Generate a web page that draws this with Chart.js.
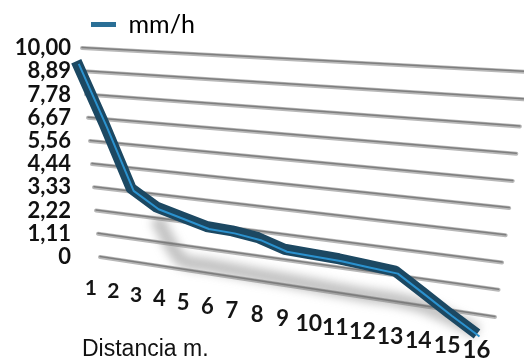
<!DOCTYPE html>
<html>
<head>
<meta charset="utf-8">
<script src="https://cdn.jsdelivr.net/npm/chart.js@4.4.0/dist/chart.umd.min.js"></script>
<style>
html, body { margin: 0; padding: 0; background: #fff; }
</style>
</head>
<body>
<canvas id="myChart" width="524" height="363"></canvas>
<script>
var categories = ['1', '2', '3', '4', '5', '6', '7', '8', '9', '10', '11', '12', '13', '14', '15', '16'];
var rainRate = [9.8, 7.0, 4.2, 3.5, 3.2, 2.9, 2.85, 2.7, 2.35, 2.3, 2.25, 2.15, 2.05, 1.35, 0.65, 0];
// grey floor shadow of the ribbon in the original 3D render
var shadowTrace = [null, null, null, 3.0, 1.3, 1.2, 1.15, 1.1, 1.05, 1.0, 0.95, 0.9, 0.9, 0.8, 0.5, 0.1];
var yTickLabels = ['0', '1,11', '2,22', '3,33', '4,44', '5,56', '6,67', '7,78', '8,89', '10,00'];
var seriesName = 'mm/h';
var axisTitle = 'Distancia m.';

// wall seen in perspective: corners bottom-left, bottom-right, top-right, top-left;
// k > 1 widens the category spacing towards the right (nearer) side
function wallMap(bl, br, tr, tl, k) {
  return function (u, v) {
    var t = u / (k - (k - 1) * u);
    var bx = bl[0] + t * (br[0] - bl[0]), by = bl[1] + t * (br[1] - bl[1]);
    var tx = tl[0] + t * (tr[0] - tl[0]), ty = tl[1] + t * (tr[1] - tl[1]);
    return [bx + v * (tx - bx), by + v * (ty - by)];
  };
}

var backWall = wallMap([100, 257], [495, 317], [527, 72], [82, 48], 1.155);
var frontPlane = wallMap([88, 274], [477, 334], [515, 86], [76, 57], 1.155);

function norm(area, px, py) {
  return [(px - area.left) / (area.right - area.left), (area.bottom - py) / (area.bottom - area.top)];
}

var perspective = {
  id: 'perspective',
  beforeInit: function (chart) {
    var fit = chart.legend.fit;
    chart.legend.fit = function () {
      fit.bind(chart.legend)();
      this.height = 45;
    };
  },
  afterDatasetsUpdate: function (chart) {
    var area = chart.chartArea;
    chart.data.datasets.forEach(function (ds, i) {
      var off = ds.shift || [0, 0];
      chart.getDatasetMeta(i).data.forEach(function (pt) {
        if (pt.skip) return;
        var n = norm(area, pt.x, pt.y);
        var p = frontPlane(n[0], n[1]);
        pt.x = p[0] + off[0];
        pt.y = p[1] + off[1];
      });
    });
  },
  beforeDatasetsDraw: function (chart) {
    var ctx = chart.ctx, area = chart.chartArea;
    var x = chart.scales.x, y = chart.scales.y;
    ctx.save();
    ctx.lineCap = 'round';
    y.ticks.forEach(function (t) {
      var v = norm(area, 0, y.getPixelForValue(t.value))[1];
      var p = backWall(0, v), q = backWall(1, v);
      ctx.beginPath();
      ctx.moveTo(p[0], p[1]);
      ctx.lineTo(q[0], q[1]);
      ctx.strokeStyle = '#b8b8b8';
      ctx.lineWidth = 4;
      ctx.stroke();
      ctx.beginPath();
      ctx.moveTo(p[0], p[1] - 0.5);
      ctx.lineTo(q[0], q[1] - 0.5);
      ctx.strokeStyle = '#7e7e7e';
      ctx.lineWidth = 1.5;
      ctx.stroke();
    });
    ctx.fillStyle = '#151515';
    ctx.textAlign = 'center';
    ctx.textBaseline = 'middle';
    x.getLabels().forEach(function (lab, i) {
      var u = norm(area, x.getPixelForValue(i), 0)[0];
      var p = frontPlane(u, -0.065);
      ctx.font = 'bold ' + Math.round(21 * (1 + 0.12 * u)) + 'px Lato';
      ctx.fillText(lab, p[0] + 2, p[1]);
    });
    ctx.restore();
  },
  beforeDatasetDraw: function (chart, args) {
    if (chart.data.datasets[args.index].blur) {
      chart.ctx.save();
      chart.ctx.filter = 'blur(5px)';
    }
  },
  afterDatasetDraw: function (chart, args) {
    if (chart.data.datasets[args.index].blur) chart.ctx.restore();
  }
};

var chart = new Chart('myChart', {
  type: 'line',
  data: {
    labels: categories,
    datasets: [{
      label: seriesName,
      data: rainRate,
      borderColor: '#2b92cf',
      borderWidth: 2,
      shift: [2.5, 2.5],
      pointRadius: 0,
      tension: 0,
      clip: false,
      borderJoinStyle: 'round'
    }, {
      label: seriesName,
      data: rainRate,
      borderColor: '#1c4862',
      borderWidth: 11,
      pointRadius: 0,
      tension: 0,
      clip: false,
      borderJoinStyle: 'round'
    }, {
      label: 'shadow',
      data: shadowTrace,
      borderColor: 'rgba(120,120,120,0.45)',
      borderWidth: 14,
      blur: true,
      pointRadius: 0,
      tension: 0.3,
      clip: false,
      borderJoinStyle: 'round'
    }]
  },
  options: {
    responsive: false,
    animation: false,
    events: [],
    layout: { padding: { top: 3 } },
    plugins: {
      tooltip: { enabled: false },
      legend: {
        position: 'top',
        align: 'start',
        fullSize: false,
        labels: {
          padding: 9,
          boxWidth: 25,
          boxHeight: 5,
          color: '#222',
          font: { family: 'Lato', size: 25 },
          generateLabels: function () {
            return [{ text: seriesName, fillStyle: '#2a6f96', strokeStyle: '#2a6f96', lineWidth: 0, hidden: false, datasetIndex: 1 }];
          }
        }
      }
    },
    scales: {
      x: {
        grid: { display: false, drawTicks: false },
        border: { display: false },
        ticks: { display: false },
        title: {
          display: true,
          text: axisTitle,
          align: 'start',
          color: '#111',
          font: { family: 'Liberation Sans', size: 23 },
          padding: { top: 2, bottom: 0 }
        },
        afterFit: function (s) { s.height = 106; }
      },
      y: {
        min: 0,
        max: 10,
        grid: { display: false, drawTicks: false },
        border: { display: false },
        afterBuildTicks: function (s) {
          s.ticks = yTickLabels.map(function (_, i) { return { value: i * 10 / 9 }; });
        },
        ticks: {
          autoSkip: false,
          padding: 11,
          color: '#111',
          font: { family: 'Lato', size: 22, weight: 'bold' },
          callback: function (value, index) { return yTickLabels[index]; }
        },
        afterFit: function (s) { s.width = 82; }
      }
    }
  },
  plugins: [perspective]
});
</script>
</body>
</html>
